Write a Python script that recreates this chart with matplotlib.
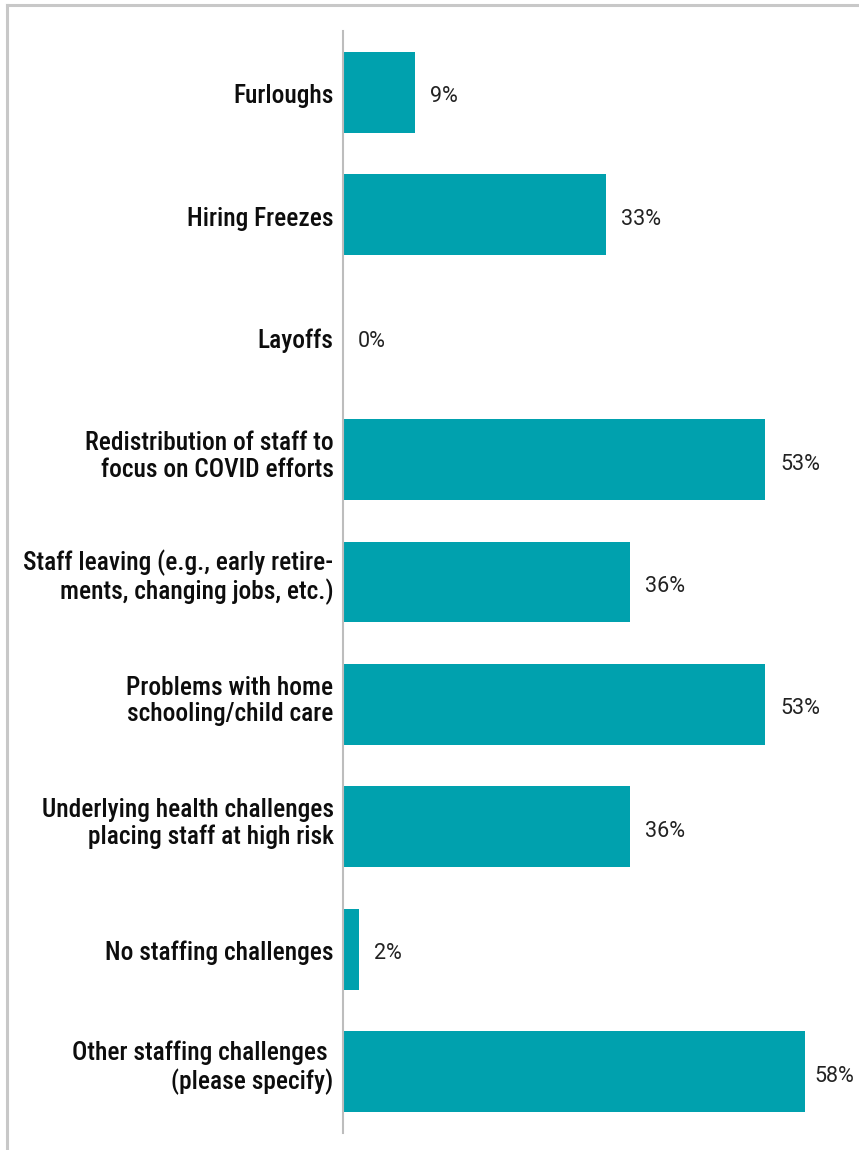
import matplotlib
matplotlib.use("Agg")
import matplotlib.pyplot as plt
from matplotlib.lines import Line2D
from matplotlib import font_manager

# staffing challenges reported, share of respondents (%)
categories = [
    "Furloughs",
    "Hiring Freezes",
    "Layoffs",
    "Redistribution of staff to\nfocus on COVID efforts",
    "Staff leaving (e.g., early retire-\nments, changing jobs, etc.)",
    "Problems with home\nschooling/child care",
    "Underlying health challenges\nplacing staff at high risk",
    "No staffing challenges",
    "Other staffing challenges \n(please specify)",
]
values = [9, 33, 0, 53, 36, 53, 36, 2, 58]
value_labels = ["9%", "33%", "0%", "53%", "36%", "53%", "36%", "2%", "58%"]

BAR_COLOR = "#00a1ae"
AXIS_GRAY = "#bdbdbd"
FRAME_GRAY = "#c8c8c8"

installed = {f.name for f in font_manager.fontManager.ttflist}
label_font = ["Roboto Condensed", "Liberation Sans Narrow", "Open Sans Condensed",
              "Roboto", "DejaVu Sans"]
label_font = [f for f in label_font if f in installed] or ["DejaVu Sans"]
value_font = ["Roboto", "Liberation Sans", "DejaVu Sans"]
value_font = [f for f in value_font if f in installed] or ["DejaVu Sans"]

fig = plt.figure(figsize=(8.59, 11.5), dpi=100)
W, H = 859, 1150
PX_PER_PCT = 7.97
ax = fig.add_axes([343 / W, 1 - 1133 / H, (W - 343) / W, (1133 - 31) / H])

y = list(range(len(categories)))
ax.barh(y, values, height=0.66, color=BAR_COLOR, zorder=2)

ax.set_xlim(0, (W - 343) / PX_PER_PCT)
ax.set_ylim(len(categories) - 0.5, -0.5)

for spine in ["top", "right", "bottom"]:
    ax.spines[spine].set_visible(False)
ax.spines["left"].set_color(AXIS_GRAY)
ax.spines["left"].set_linewidth(1.5)
ax.set_xticks([])
ax.set_yticks([])

for i, (cat, v, lab) in enumerate(zip(categories, values, value_labels)):
    # baseline of the last line sits a bit below the bar centre
    drop = -17 if "\n" in cat else -11
    ax.annotate(cat, xy=(0, i), xytext=(-9.5, drop), textcoords="offset pixels",
                ha="right", va="baseline", fontsize=18.3, fontweight="medium",
                family=label_font, linespacing=1.13, color="#0d0d0d")
    # keep the widest value label inside the figure
    pad = 9 if v > 55 else 15
    ax.annotate(lab, xy=(v, i), xytext=(pad, -10), textcoords="offset pixels",
                ha="left", va="baseline", fontsize=15.5,
                family=value_font, color="#222222")

# light frame along the top and left edges
fig.add_artist(Line2D([7 / W, 1], [1 - 5 / H, 1 - 5 / H], color=FRAME_GRAY,
                      linewidth=2.2, transform=fig.transFigure))
fig.add_artist(Line2D([7 / W, 7 / W], [0, 1 - 5 / H], color=FRAME_GRAY,
                      linewidth=2.2, transform=fig.transFigure))

fig.savefig("out.png", dpi=100, facecolor="white")
